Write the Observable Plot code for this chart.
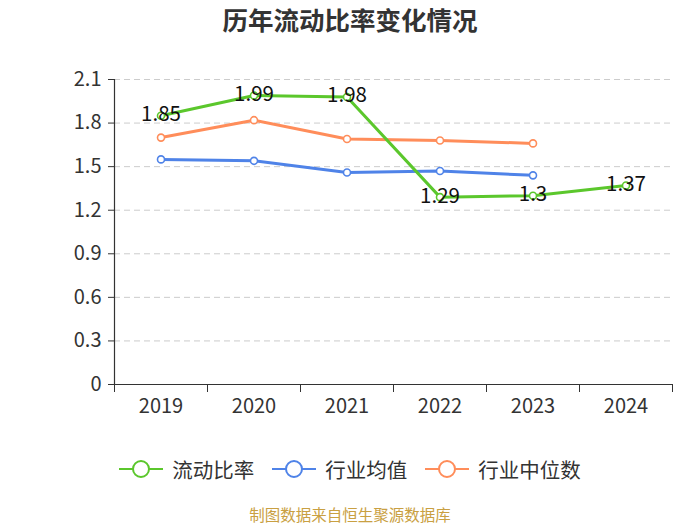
<!DOCTYPE html>
<html>
<head>
<meta charset="utf-8">
<script src="https://cdn.jsdelivr.net/npm/d3@7"></script>
<script src="https://cdn.jsdelivr.net/npm/@observablehq/plot@0.6"></script>
<style>
  body { margin: 0; background: #fff; font-family: "Noto Sans CJK SC", "Noto Sans", sans-serif; }
  #wrap { width: 700px; height: 525px; position: relative; overflow: hidden; }
  #title { height: 50px; text-align: center; font-size: 25.5px; font-weight: bold; color: #333; line-height: 28px; padding-top: 5px; box-sizing: border-box; }
  #legend { position: absolute; top: 454px; left: 0; width: 700px; display: flex; justify-content: center; align-items: center; font-size: 20.5px; color: #333; }
  .item { display: flex; align-items: center; margin: 0 9px; }
  .item svg { margin-right: 9px; }
  #caption { position: absolute; top: 506px; left: 0; width: 700px; text-align: center; font-size: 15.5px; line-height: 17px; color: #c9a042; }
</style>
</head>
<body>
<div id="wrap">
  <div id="title">历年流动比率变化情况</div>
  <div id="chart"></div>
  <div id="legend"></div>
  <div id="caption">制图数据来自恒生聚源数据库</div>
</div>
<script>
const years = ["2019", "2020", "2021", "2022", "2023", "2024"];
const currentRatio = [1.85, 1.99, 1.98, 1.29, 1.3, 1.37];
const industryMean = [1.55, 1.54, 1.46, 1.47, 1.44];
const industryMedian = [1.70, 1.82, 1.69, 1.68, 1.66];
const yTicks = [0, 0.3, 0.6, 0.9, 1.2, 1.5, 1.8, 2.1];
const seriesNames = ["流动比率", "行业均值", "行业中位数"];
const colors = ["#5bc72c", "#4f83e8", "#ff8d5a"];

const toRows = vals => vals.map((v, i) => ({ i, year: years[i], v }));
const green = toRows(currentRatio);
const blue = toRows(industryMean);
const orange = toRows(industryMedian);
const bandEdges = d3.range(years.length + 1).map(k => k - 0.5);

const lineMarks = (rows, color) => [
  Plot.line(rows, { x: "i", y: "v", stroke: color, strokeWidth: 3 }),
  Plot.dot(rows, { x: "i", y: "v", r: 3.5, fill: "white", stroke: color, strokeWidth: 1.6 })
];

const chart = Plot.plot({
  width: 700,
  height: 380,
  marginLeft: 114,
  marginRight: 28,
  marginTop: 29,
  marginBottom: 46,
  style: { fontSize: "20px", color: "#333", fontFamily: "'Noto Sans CJK SC', sans-serif", background: "transparent" },
  x: { type: "linear", domain: [-0.5, years.length - 0.5] },
  y: { domain: [0, 2.1] },
  marks: [
    Plot.ruleY(yTicks.filter(t => t > 0), { stroke: "#ccc", strokeDasharray: "6,4", strokeWidth: 1 }),
    Plot.axisY({ ticks: yTicks, tickSize: 6, tickPadding: 7, label: null, tickFormat: d => String(d), stroke: "#333" }),
    Plot.axisX({ ticks: bandEdges, tickSize: 8, tickFormat: () => "", label: null, stroke: "#333" }),
    Plot.axisX({ ticks: d3.range(years.length), tickSize: 0, tickPadding: 14, tickFormat: i => years[i], label: null }),
    Plot.ruleX([-0.5], { stroke: "#333", strokeWidth: 1.2 }),
    Plot.ruleY([0], { stroke: "#333", strokeWidth: 1.2 }),
    ...lineMarks(orange, colors[2]),
    ...lineMarks(blue, colors[1]),
    ...lineMarks(green, colors[0]),
    Plot.text(green, { x: "i", y: "v", text: d => String(d.v), fontSize: 20.5, fill: "#111", dy: -1 })
  ]
});
document.getElementById("chart").appendChild(chart);

const legend = document.getElementById("legend");
seriesNames.forEach((name, k) => {
  const item = document.createElement("div");
  item.className = "item";
  item.innerHTML = `<svg width="44" height="20"><line x1="0" y1="10" x2="44" y2="10" stroke="${colors[k]}" stroke-width="2"/><circle cx="22" cy="10" r="8" fill="white" stroke="${colors[k]}" stroke-width="2"/></svg><span>${name}</span>`;
  legend.appendChild(item);
});
</script>
</body>
</html>
